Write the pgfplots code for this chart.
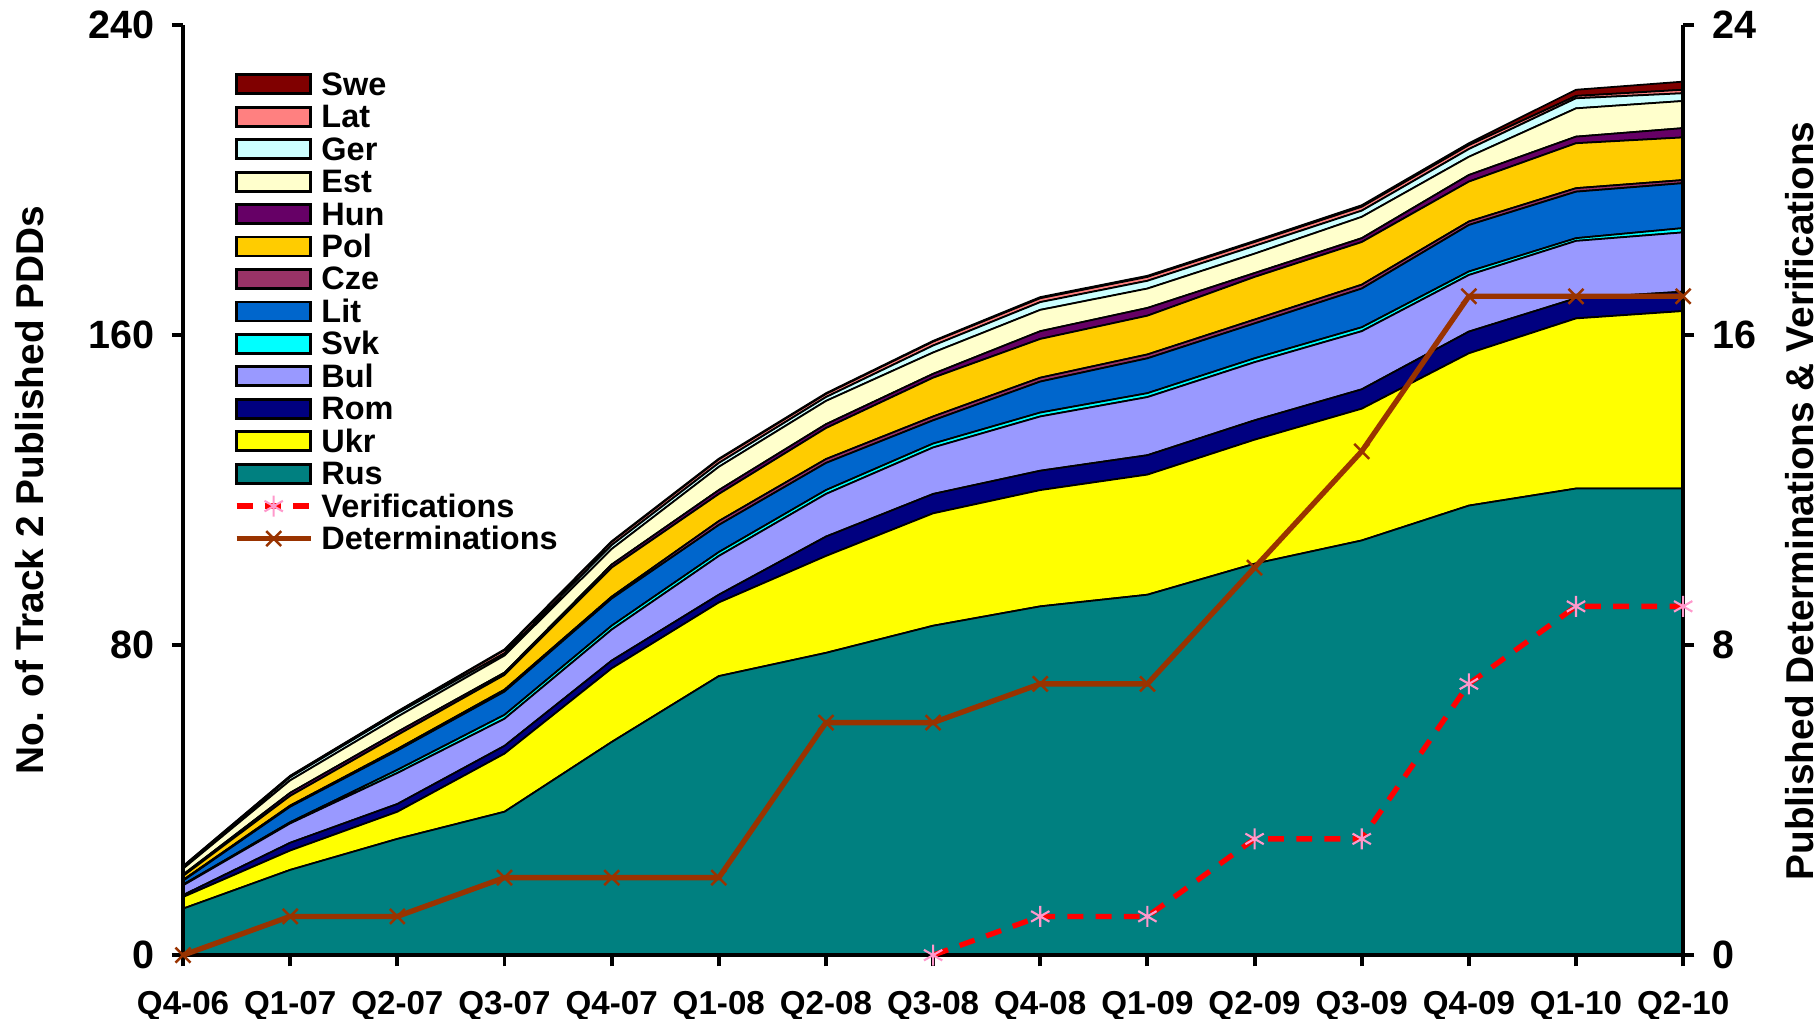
\documentclass[border=0pt]{standalone}
\usepackage{fontspec}
\setmainfont{Liberation Sans}
\usepackage{pgfplots}
\usepackage{pgfplotstable}
\pgfplotsset{compat=1.18}

\definecolor{cRus}{HTML}{008080}
\definecolor{cUkr}{HTML}{FFFF00}
\definecolor{cRom}{HTML}{000080}
\definecolor{cBul}{HTML}{9999FF}
\definecolor{cSvk}{HTML}{00FFFF}
\definecolor{cLit}{HTML}{0066CC}
\definecolor{cCze}{HTML}{993366}
\definecolor{cPol}{HTML}{FFCC00}
\definecolor{cHun}{HTML}{660066}
\definecolor{cEst}{HTML}{FFFFCC}
\definecolor{cGer}{HTML}{CCFFFF}
\definecolor{cLat}{HTML}{FF8080}
\definecolor{cSwe}{HTML}{800000}
\definecolor{cDet}{HTML}{993300}
\definecolor{cVer}{HTML}{FF0000}
\definecolor{cVerMark}{HTML}{FF99CC}

\pgfplotsset{
  area img/.style={legend image code/.code={\draw[fill=#1, draw=black, line width=0.8pt] (0pt,-2.7pt) rectangle (21pt,2.7pt);}},
  line img/.style={legend image code/.code={\draw[##1, mark=none] (0pt,0pt) -- (21pt,0pt); \draw[##1] plot coordinates {(10.5pt,0pt)};}},
  myarea/.style={fill=#1, draw=black, line width=0.5pt},
}

\pgfplotstableread{
x Rus Ukr Rom Bul Svk Lit Cze Pol Hun Est Ger Lat Swe
0 12 3 0.5 2.5 0.2 1 0.2 1 0.4 1.5 0.4 0.2 0.1
1 22 5 2 5 0.3 4 0.3 2.5 0.8 3.2 0.8 0.3 0.1
2 30 7 2 8 0.8 5 0.4 3.6 0.8 3.9 0.9 0.4 0.1
3 37 15 2 7 1 6 0.5 3.8 0.6 4.4 0.6 0.8 0.2
4 55 19 2 8 1 7 0.5 7.5 0.8 4 1 0.8 0.2
5 72 19 2 10 1 7 1 7 1 6 1 0.9 0.2
6 78 25 5 11 1 7 1 8 1 6 1 0.8 0.2
7 85 29 5 12 1 6 1 10 1 5.5 1.8 1 0.2
8 90 30 5 14 1 8 1 10 2 5.5 2 1 0.3
9 93 31 5 15 1 9 1 10 2 5 2 1 0.3
10 101 32 5 15 1 9 1 11 1 5 2 1 0.3
11 107 34 5 15 1 10 1 11 1 5.5 1.6 1 0.4
12 116 39.3 5.6 14.6 0.9 12 0.9 10.3 1.7 4.7 2 1 0.5
13 120.4 43.9 5.2 14.8 0.7 12 0.9 11.6 1.7 7.3 2.6 0.6 1.6
14 120.4 45.8 5 15.3 1.1 11.6 0.8 11 2.4 7 2 0.9 2.1
}\pdds

\pgfplotstableread{
x det
0 0
1 1
2 1
3 2
4 2
5 2
6 6
7 6
8 7
9 7
10 10
11 13
12 17
13 17
14 17
}\dets

\pgfplotstableread{
x ver
7 0
8 1
9 1
10 3
11 3
12 7
13 9
14 9
}\vers

\begin{document}
\begin{tikzpicture}
\pgfplotsset{
  every axis/.append style={
    width=425.3pt, height=263.7pt, scale only axis,
    xmin=0, xmax=14, xtick={0,...,14},
    axis line style={line width=1.2pt, black},
    tick style={line width=1.1pt, black},
    major tick length=3.2pt, tick align=outside,
    /pgf/number format/assume math mode=true,
    yticklabel style={font=\fontsize{11.2}{12}\selectfont\bfseries},
    xticklabel style={font=\fontsize{9.4}{11}\selectfont\bfseries, inner sep=0pt, yshift=-7.0pt},
  },
}
\begin{axis}[
  axis x line*=bottom, axis y line*=left,
  axis on top,
  ymin=0, ymax=240, ytick={0,80,160,240},
  yticklabel style={xshift=-1.5pt},
  xticklabels={Q4-06,Q1-07,Q2-07,Q3-07,Q4-07,Q1-08,Q2-08,Q3-08,Q4-08,Q1-09,Q2-09,Q3-09,Q4-09,Q1-10,Q2-10},
  stack plots=y,
  ylabel={No. of Track 2 Published PDDs},
  ylabel style={font=\fontsize{11}{13}\selectfont\bfseries, inner sep=0pt, at={(axis description cs:0,0.5)}, yshift=43.4pt, anchor=center},
]
\addplot[myarea=cRus] table[x=x,y=Rus]{\pdds} \closedcycle;
\addplot[myarea=cUkr] table[x=x,y=Ukr]{\pdds} \closedcycle;
\addplot[myarea=cRom] table[x=x,y=Rom]{\pdds} \closedcycle;
\addplot[myarea=cBul] table[x=x,y=Bul]{\pdds} \closedcycle;
\addplot[myarea=cSvk] table[x=x,y=Svk]{\pdds} \closedcycle;
\addplot[myarea=cLit] table[x=x,y=Lit]{\pdds} \closedcycle;
\addplot[myarea=cCze] table[x=x,y=Cze]{\pdds} \closedcycle;
\addplot[myarea=cPol] table[x=x,y=Pol]{\pdds} \closedcycle;
\addplot[myarea=cHun] table[x=x,y=Hun]{\pdds} \closedcycle;
\addplot[myarea=cEst] table[x=x,y=Est]{\pdds} \closedcycle;
\addplot[myarea=cGer] table[x=x,y=Ger]{\pdds} \closedcycle;
\addplot[myarea=cLat] table[x=x,y=Lat]{\pdds} \closedcycle;
\addplot[myarea=cSwe] table[x=x,y=Swe]{\pdds} \closedcycle;
\end{axis}
\begin{axis}[
  axis x line=none, axis y line*=right,
  ymin=0, ymax=24, ytick={0,8,16,24},
  yticklabel style={xshift=1.5pt},
  clip=false,
  ylabel={Published Determinations \& Verifications},
  ylabel style={font=\fontsize{11}{13}\selectfont\bfseries, inner sep=0pt, at={(axis description cs:1,0.5)}, yshift=-32.9pt, xshift=-3.1pt, anchor=center},
  legend style={at={(axis description cs:0.0335,0.9545)}, anchor=north west, draw=none, fill=none,
    font=\fontsize{9.2}{10}\selectfont\bfseries, row sep=0pt, column sep=1pt, inner sep=0pt,
    nodes={inner sep=1.3pt, text height=6.4pt, text depth=0.2pt}},
  legend cell align=left,
]
\addlegendimage{area img=cSwe}\addlegendentry{Swe}
\addlegendimage{area img=cLat}\addlegendentry{Lat}
\addlegendimage{area img=cGer}\addlegendentry{Ger}
\addlegendimage{area img=cEst}\addlegendentry{Est}
\addlegendimage{area img=cHun}\addlegendentry{Hun}
\addlegendimage{area img=cPol}\addlegendentry{Pol}
\addlegendimage{area img=cCze}\addlegendentry{Cze}
\addlegendimage{area img=cLit}\addlegendentry{Lit}
\addlegendimage{area img=cSvk}\addlegendentry{Svk}
\addlegendimage{area img=cBul}\addlegendentry{Bul}
\addlegendimage{area img=cRom}\addlegendentry{Rom}
\addlegendimage{area img=cUkr}\addlegendentry{Ukr}
\addlegendimage{area img=cRus}\addlegendentry{Rus}
\addplot[color=cVer, line width=1.5pt, dash pattern=on 4.5pt off 3.5pt, mark=asterisk, mark size=3pt,
  mark options={draw=cVerMark, solid, line width=0.6pt}, line img]
  table[x=x,y=ver]{\vers};
\addlegendentry{Verifications}
\addplot[color=cDet, line width=1.5pt, mark=x, mark size=3pt, mark options={line width=0.7pt}, line img]
  table[x=x,y=det]{\dets};
\addlegendentry{Determinations}
\end{axis}
\pgfresetboundingbox
\useasboundingbox (-51.9pt,-17.9pt) rectangle (464.1pt,270.8pt);
\end{tikzpicture}
\end{document}
